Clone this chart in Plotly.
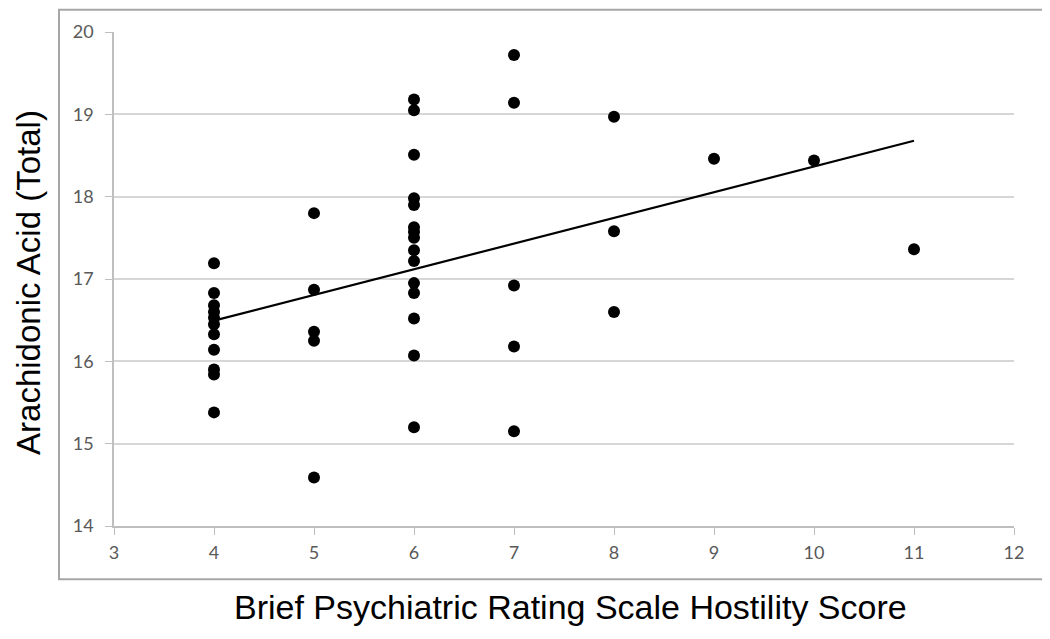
import numpy as np
import plotly.graph_objects as go

# Data
hostility = ([4] * 11) + ([5] * 5) + ([6] * 15) + ([7] * 5) + ([8] * 3) + [9, 10, 11]
arachidonic = [
    17.19, 16.83, 16.68, 16.60, 16.53, 16.45, 16.33, 16.14, 15.90, 15.84, 15.38,
    17.80, 16.87, 16.36, 16.25, 14.59,
    19.18, 19.05, 18.51, 17.98, 17.90, 17.63, 17.57, 17.50, 17.35, 17.22, 16.95, 16.83, 16.52, 16.07, 15.20,
    19.72, 19.14, 16.92, 16.18, 15.15,
    18.97, 17.58, 16.60,
    18.46,
    18.44,
    17.36,
]
x_ticks = [3, 4, 5, 6, 7, 8, 9, 10, 11, 12]
y_ticks = [14, 15, 16, 17, 18, 19, 20]

# Linear trend line fitted to the data
slope, intercept = np.polyfit(hostility, arachidonic, 1)
trend_x = [min(hostility), max(hostility)]
trend_y = [slope * v + intercept for v in trend_x]

# Page body margin of the html page shifts the figure by 8 px
OFF = 8
W, H = 1041, 623
px_left, px_right, px_top, px_bottom = 114 - OFF, 1014 - OFF, 24 - OFF, 526 - OFF
L, R, T, B = px_left, W - px_right, px_top, H - px_bottom
pw, ph = px_right - px_left, px_bottom - px_top


def paper_x(win_x):
    return (win_x - OFF - px_left) / pw


def paper_y(win_y):
    return (px_bottom - (win_y - OFF)) / ph


fig = go.Figure()
fig.add_trace(go.Scatter(x=trend_x, y=trend_y, mode="lines",
                         line=dict(color="black", width=2.2), hoverinfo="skip",
                         showlegend=False))
fig.add_trace(go.Scatter(x=hostility, y=arachidonic, mode="markers",
                         marker=dict(color="black", size=12, line=dict(width=0)),
                         showlegend=False))

tick_font = dict(family="Lato, Open Sans, sans-serif", size=18, color="#595959")
fig.update_layout(
    width=W, height=H,
    margin=dict(l=L, r=R, t=T, b=B, pad=0),
    paper_bgcolor="white", plot_bgcolor="white",
    xaxis=dict(range=[3, 12], tickvals=x_ticks, ticks="outside", ticklen=7,
               tickcolor="#bfbfbf", showgrid=False, zeroline=False,
               showline=True, linecolor="#bfbfbf", linewidth=1.5,
               tickfont=tick_font, ticklabelstandoff=3),
    yaxis=dict(range=[14, 20], tickvals=y_ticks, ticks="outside", ticklen=7,
               tickcolor="#bfbfbf", showgrid=True, gridcolor="#d6d6d6", gridwidth=1.5,
               zeroline=False, showline=True, linecolor="#bfbfbf", linewidth=1.5,
               tickfont=tick_font, ticklabelstandoff=8),
    shapes=[dict(type="rect", xref="paper", yref="paper",
                 x0=paper_x(59), x1=paper_x(1046),
                 y0=paper_y(580), y1=paper_y(1.5),
                 line=dict(color="#a6a6a6", width=2), fillcolor="rgba(0,0,0,0)",
                 layer="below")],
    annotations=[
        dict(text="Brief Psychiatric Rating Scale Hostility Score", xref="paper", yref="paper",
             x=paper_x(570), y=paper_y(608), showarrow=False,
             xanchor="center", yanchor="middle",
             font=dict(family="Liberation Sans, Arial, sans-serif", size=34, color="black")),
        dict(text="Arachidonic Acid (Total)", xref="paper", yref="paper",
             x=paper_x(29), y=paper_y(279), showarrow=False, textangle=-90,
             xanchor="center", yanchor="middle",
             font=dict(family="Liberation Sans, Arial, sans-serif", size=33, color="black")),
    ],
)

fig.write_html("out.html")
